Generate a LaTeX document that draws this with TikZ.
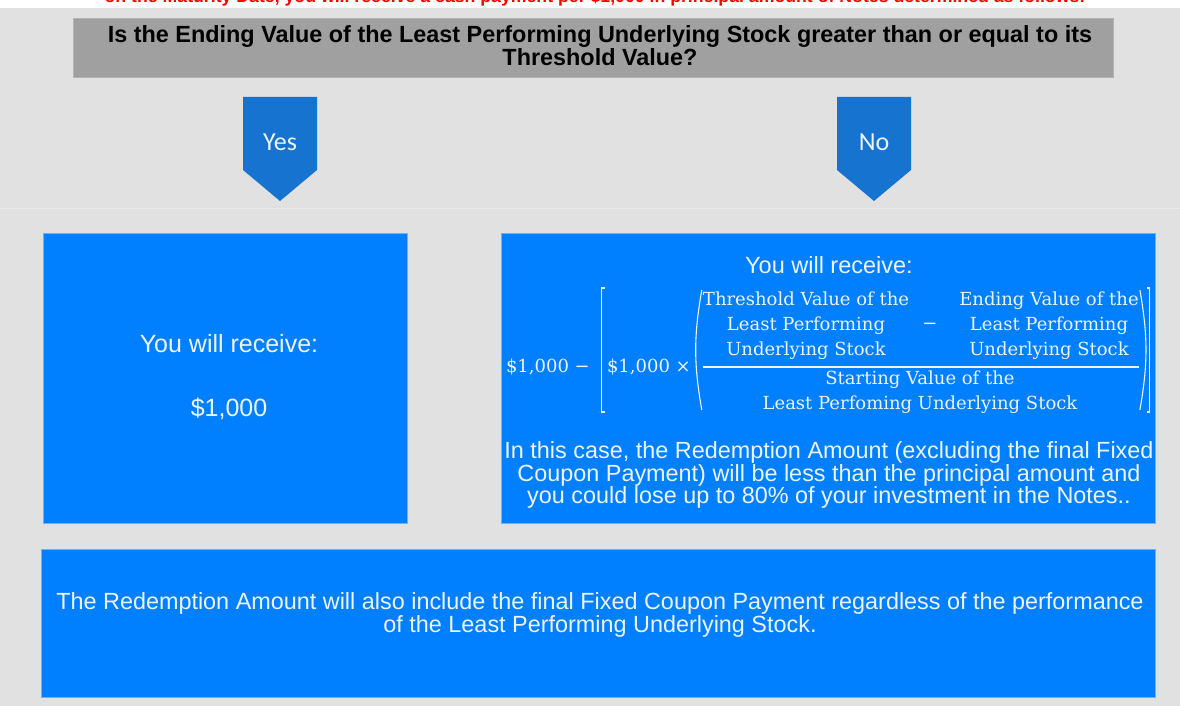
\documentclass[tikz,border=0pt]{standalone}
\usepackage{fontspec}
\setmainfont{Liberation Sans}
\newfontfamily\tagfont{Carlito}
\newfontfamily\formulafont{DejaVu Serif}
\usetikzlibrary{positioning,calc}

\definecolor{panelgray}{RGB}{225,225,225}
\definecolor{sepgray}{RGB}{236,236,236}
\definecolor{headgray}{RGB}{160,160,160}
\definecolor{boxblue}{RGB}{0,128,255}
\definecolor{tagblue}{RGB}{22,116,208}
\definecolor{paletext}{RGB}{236,244,255}
\definecolor{warnred}{RGB}{255,0,0}

\tikzset{
    bluebox/.style={rectangle, fill=boxblue, draw=boxblue!60!white, line width=0.8pt, inner sep=0pt},
    boxtext/.style={text=paletext, align=center, inner sep=0pt},
    tagtext/.style={text=paletext, font=\tagfont\fontsize{26}{28}\selectfont, inner sep=0pt},
    ftext/.style={text=paletext, align=center, inner sep=0pt, font=\formulafont\fontsize{18}{25}\selectfont},
    delim/.style={draw=paletext, line width=1.1pt}
}

\begin{document}
\begin{tikzpicture}[x=1pt, y=-1pt, >=stealth]
    \useasboundingbox (0,0) rectangle (1180,706);
    % Background
    \fill[white] (0,0) rectangle (1180,706);
    \fill[panelgray] (0,8) rectangle (1180,706);
    \draw[sepgray, line width=1pt] (0,208) -- (1180,208);

    % Cut-off heading
    \node[anchor=base, text=warnred, inner sep=0pt,
          font=\bfseries\fontsize{17.7}{20}\selectfont] (intro) at (595,2.5)
        {on the Maturity Date, you will receive a cash payment per \$1,000 in principal amount of Notes determined as follows:};

    % Question
    \node[rectangle, fill=headgray, draw=headgray!80!white, line width=0.8pt,
          minimum width=1040, minimum height=59, anchor=north west] (question) at (73,18) {};
    \node[align=center, inner sep=0pt, font=\bfseries\fontsize{23.4}{20}\selectfont]
        (qtext) at (600,46)
        {Is the Ending Value of the Least Performing Underlying Stock greater than or equal to its\\
         Threshold Value?};

    % Tags
    \fill[tagblue] (243,97) -- (317,97) -- (317,170) -- (280,201) -- (243,170) -- cycle;
    \node[tagtext] (yes) at (280,142) {Yes};
    \fill[tagblue] (837,97) -- (911,97) -- (911,170) -- (874,201) -- (837,170) -- cycle;
    \node[tagtext] (no) at (874,142) {No};

    % Outcome boxes
    \node[bluebox, minimum width=364, minimum height=290, anchor=north west] (gain) at (43,233) {};
    \node[boxtext, font=\fontsize{25}{25}\selectfont] (gaintext) at (229,377)
        {You will receive:\\[39pt] \$1,000};

    \node[bluebox, minimum width=654, minimum height=290, anchor=north west] (loss) at (501,233) {};
    \node[boxtext, font=\fontsize{23.5}{23.5}\selectfont] (losshead) at (829,265) {You will receive:};

    % Formula
    \coordinate (top) at (920,288);
    \coordinate (bar) at (920,367);
    \coordinate (bottom) at (920,412);
    \node[ftext] (numleft) at (806,326) {Threshold Value of the\\Least Performing\\Underlying Stock};
    \node[ftext] (minus) at (930,326) {−};
    \node[ftext] (numright) at (1049,326) {Ending Value of the\\Least Performing\\Underlying Stock};
    \node[ftext] (denom) at (920,392) {Starting Value of the\\Least Perfoming Underlying Stock};
    \draw[delim] (numleft.west |- bar) -- (numright.east |- bar);
    \node[ftext, anchor=east] (factor) at (691,367) {\$1,000 ×};
    \node[ftext, anchor=east] (lead) at (590,367) {\$1,000 −};
    \draw[delim] ($(factor.west |- top)+(-2,0)$) -- ++(-3,0) -- ($(factor.west |- bottom)+(-5,0)$) -- ++(3,0);
    \draw[delim] ($(numleft.west |- top)+(-1,2)$) to[bend right=10] ($(numleft.west |- bottom)+(-1,-2)$);
    \draw[delim] ($(numright.east |- top)+(1,2)$) to[bend left=10] ($(numright.east |- bottom)+(1,-2)$);
    \draw[delim] ($(numright.east |- top)+(8,0)$) -- ++(3,0) -- ($(numright.east |- bottom)+(11,0)$) -- ++(-3,0);

    \node[boxtext, font=\fontsize{23.4}{20.8}\selectfont] (losstext) at (829,475)
        {In this case, the Redemption Amount (excluding the final Fixed\\
         Coupon Payment) will be less than the principal amount and\\
         you could lose up to 80\% of your investment in the Notes..};

    % Coupon note
    \node[bluebox, minimum width=1114, minimum height=148, anchor=north west] (coupon) at (41,549) {};
    \node[boxtext, font=\fontsize{23.4}{21}\selectfont] (coupontext) at (600,615)
        {The Redemption Amount will also include the final Fixed Coupon Payment regardless of the performance\\
         of the Least Performing Underlying Stock.};
\end{tikzpicture}
\end{document}
